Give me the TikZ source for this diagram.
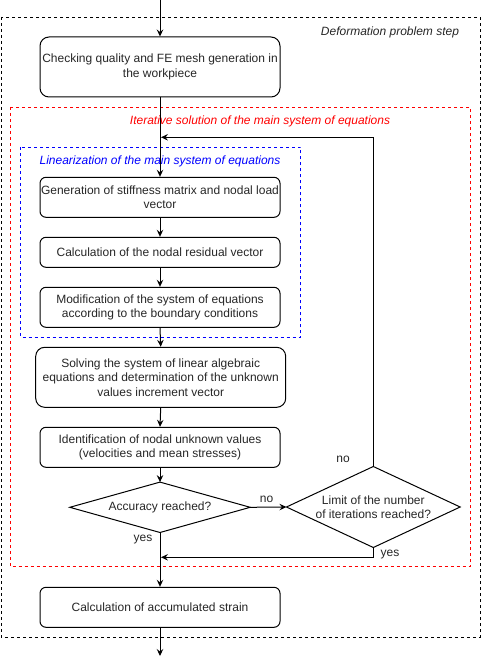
\documentclass[tikz,border=0pt]{standalone}
\usepackage{fontspec}
\setmainfont{Liberation Sans}
\usetikzlibrary{arrows.meta}
\begin{document}
\begin{tikzpicture}[x=1pt,y=-1pt,
  font=\fontsize{12}{14.5}\selectfont,
  txt/.style={text=black!85},
  box/.style={draw, line width=1pt, rounded corners=6pt, align=center, inner sep=1pt, txt},
  dec/.style={align=center, inner sep=0pt, txt},
  arr/.style={line width=1pt, -{Stealth[length=7pt,width=6.5pt,inset=2.5pt]}},
  ln/.style={line width=1pt},
  frame/.style={line width=0.8pt, dash pattern=on 3pt off 3pt},
  lab/.style={txt, inner sep=0pt}]
\useasboundingbox (0,0) rectangle (481,666);

% frames
\draw[frame, black] (1,17) rectangle (480,637);
\node[lab, font=\fontsize{12}{14.5}\selectfont\itshape] (deflab) at (390,32) {Deformation problem step};
\draw[frame, red] (10.3,107) rectangle (470,566.7);
\node[lab, text=red, font=\fontsize{12}{14.5}\selectfont\itshape] (itlab) at (260,121) {Iterative solution of the main system of equations};
\draw[frame, blue] (20.7,147.3) rectangle (300.7,337.3);
\node[lab, text=blue, font=\fontsize{12}{14.5}\selectfont\itshape] (linlab) at (160,161.7) {Linearization of the main system of equations};

% boxes
\node[box, rounded corners=9pt, minimum width=240, minimum height=60] (b1) at (160,67) {Checking quality and FE mesh generation in\\the workpiece};
\node[box, minimum width=240, minimum height=40] (b2) at (160,197.3) {Generation of stiffness matrix and nodal load\\vector};
\node[box, minimum width=240, minimum height=30] (b3) at (160,252.3) {Calculation of the nodal residual vector};
\node[box, minimum width=240, minimum height=40] (b4) at (160,307.3) {Modification of the system of equations\\according to the boundary conditions};
\node[box, rounded corners=9pt, minimum width=250, minimum height=60] (b5) at (160.7,377.3) {Solving the system of linear algebraic\\equations and determination of the unknown\\values increment vector};
\node[box, minimum width=240, minimum height=40] (b6) at (160,447.3) {Identification of nodal unknown values\\(velocities and mean stresses)};
\node[dec, minimum width=180, minimum height=50] (d1) at (160,507.3) {Accuracy reached?};
\draw[ln] (d1.north) -- (d1.east) -- (d1.south) -- (d1.west) -- cycle;
\node[dec, minimum width=173.3, minimum height=80.6] (d2) at (373.3,507) {Limit of the number\\of iterations reached?};
\draw[ln] (d2.north) -- (d2.east) -- (d2.south) -- (d2.west) -- cycle;
\node[box, minimum width=240, minimum height=40] (b7) at (160,607.3) {Calculation of accumulated strain};

% coordinates
\coordinate (top) at (160,0);
\coordinate (bot) at (160,656);
\coordinate (loopjoin) at (161,137.3);
\coordinate (yesjoin) at (161,557.3);

% connectors
\draw[arr] (top) -- (b1.north);
\draw[arr] (b1.south) -- (b2.north);
\draw[arr] (b2.south) -- (b3.north);
\draw[arr] (b3.south) -- (b4.north);
\draw[arr] (b4.south) -- (b5.north);
\draw[arr] (b5.south) -- (b6.north);
\draw[arr] (b6.south) -- (d1.north);
\draw[arr] (d1.east) -- node[lab, above=4pt, pos=0.45] (nolab1) {no} (d2.west);
\draw[arr] (d1.south) -- (b7.north);
\draw[arr] (d2.north) |- (loopjoin);
\draw[arr] (d2.south) |- (yesjoin);
\draw[arr] (b7.south) -- (bot);

% labels
\node[lab] (yes1) at (143,540) {yes};
\node[lab] (yes2) at (390,554.3) {yes};
\node[lab] (no2) at (343,459.3) {no};
\end{tikzpicture}
\end{document}
